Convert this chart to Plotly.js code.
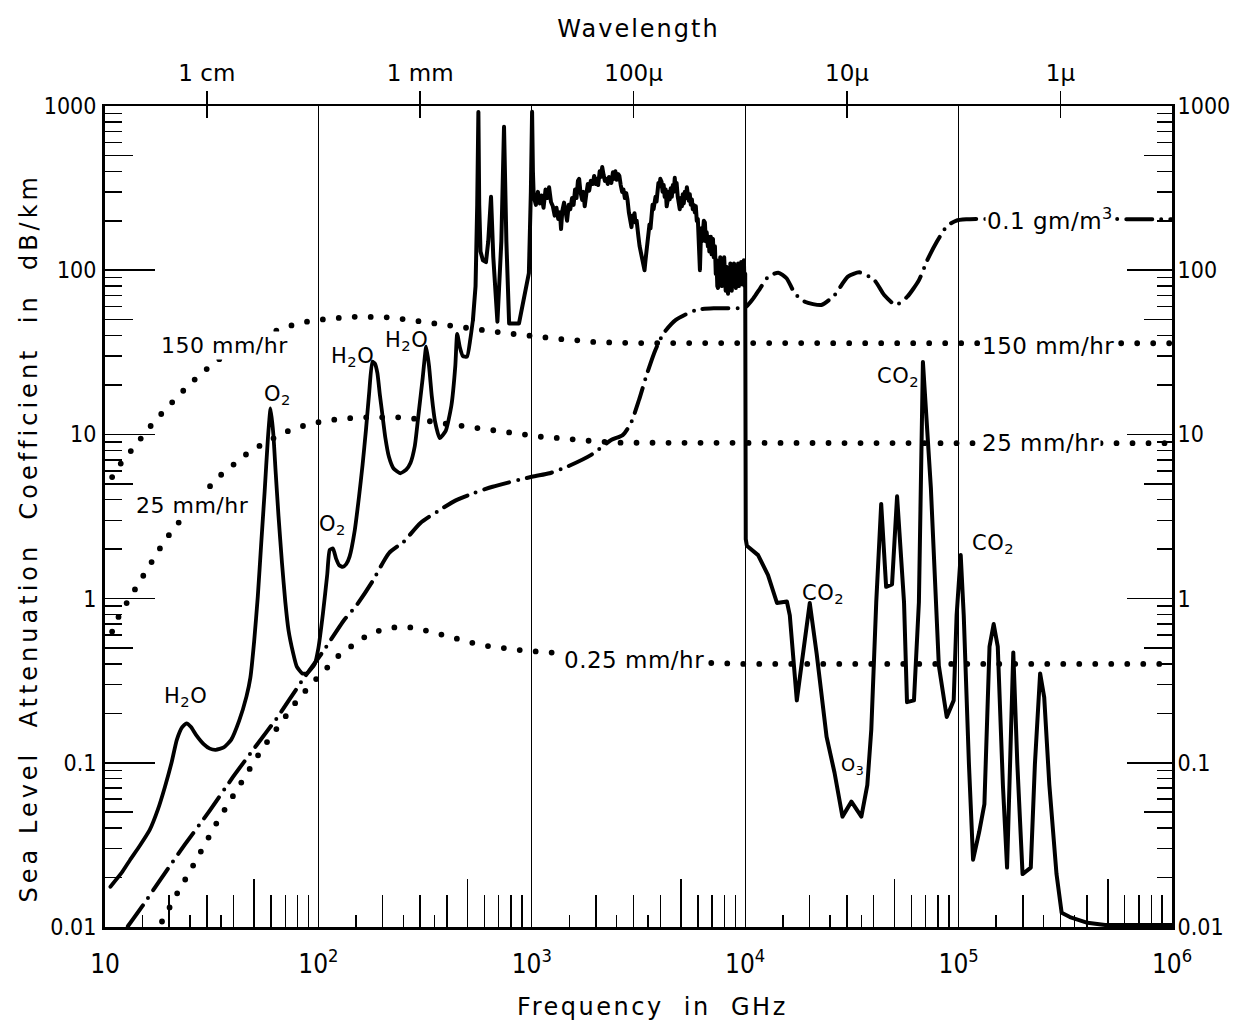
<!DOCTYPE html>
<html>
<head>
<meta charset="utf-8">
<script src="https://cdn.plot.ly/plotly-3.0.1.min.js"></script>
<style>
html,body{margin:0;padding:0;background:#fff;}
#chart{width:1234px;height:1030px;}
.scatterlayer .js-line{stroke-linecap:round;stroke-linejoin:round;}
.xtitle{letter-spacing:2.5px;}
.x2title{letter-spacing:2px;}
.ytitle{letter-spacing:4px;}
.annotation-text{letter-spacing:0.5px;}
</style>
</head>
<body>
<div id="chart"></div>
<script>
// ---------------- data ----------------
// Total sea-level attenuation (solid line)
const attenFreqGHz = [
  10.6, 12, 13.1, 14.5, 16.2, 17.7, 19.1, 20.5, 21.7, 23, 24.1, 25.3, 26.7, 29, 31, 33, 36, 39, 42.5, 46, 48, 50,
  52, 54, 56, 58, 59.7, 61.5, 63, 65, 67.5, 70, 72.4, 76, 79.2, 84, 88.2, 92, 96.2, 100, 105, 110, 113, 117, 121,
  125, 130, 135, 140, 148, 155, 161, 167, 173, 179, 184, 189, 194, 199, 206, 214, 225, 242, 258, 270, 283, 295,
  308, 320, 330, 340, 352, 370, 395, 420, 438, 447, 460, 475, 497, 515, 530,
  545, 555, 562, 567, 575, 590, 610, 625, 644, 660, 690, 720, 741, 760, 783, 871, 935, 969, 990, 1003, 1012,
  1021, 1045, 1068, 1090, 1110, 1135, 1160, 1185, 1205, 1230, 1255, 1280, 1305, 1330, 1355, 1371, 1390, 1416,
  1440, 1463, 1490, 1515, 1544, 1570, 1595, 1620, 1645, 1667, 1690, 1722, 1745, 1770, 1800, 1830, 1857, 1890,
  1930, 1960, 1990, 2020, 2047, 2080, 2110, 2138, 2170, 2200, 2233, 2270, 2300, 2330, 2359, 2400, 2430, 2464,
  2500, 2540, 2573, 2610, 2650, 2688, 2730, 2770, 2807, 2850, 2890, 2932, 2970, 3000, 3028, 3060, 3100, 3127,
  3160, 3200, 3240, 3267, 3300, 3340, 3374, 3410, 3450, 3490, 3524, 3560, 3600, 3640, 3680, 3720, 3760, 3800,
  3842, 3880, 3920, 3968, 4000, 4056, 4100, 4150, 4194, 4240, 4286, 4330, 4380, 4430, 4477, 4530, 4580, 4630,
  4677, 4720, 4770, 4830, 4880, 4935, 4990, 5050, 5100, 5156, 5210, 5270, 5330, 5385, 5440, 5500, 5560, 5625,
  5680, 5740, 5809, 5870, 5930, 5999, 6050, 6100, 6136, 6180, 6230, 6280, 6337, 6400, 6474, 6540, 6600, 6685,
  6740, 6790, 6837, 6900, 6960, 7010, 7061, 7120, 7170, 7214, 7280, 7340, 7400, 7456, 7520, 7580, 7640, 7700,
  7770, 7830, 7900, 7970, 8044, 8100, 8160, 8230, 8310, 8380, 8450, 8520, 8583, 8650, 8720, 8790, 8860, 8930,
  8966, 9040, 9110, 9180, 9264, 9340, 9420, 9500, 9573, 9650, 9720, 9788, 9860, 9930, 10000,
  10060, 10180, 11490, 12790, 14090, 15680, 16180, 17450, 20070, 21630, 24060, 26220, 28560, 31460, 35020,
  37340, 38990, 41120, 43380, 45750, 48760, 51490, 55500, 57310, 61780, 65160, 68040, 74150, 80800, 87990,
  94850, 97880, 102300, 105700, 111800, 116900, 124900, 132100, 139600, 146000, 152600, 161300, 168700,
  174500, 180400, 188500, 199400, 217900, 227800, 241000, 251900, 266300, 287600, 304000, 332300, 401800,
  485600, 1000000
];
const attenDbKm = [
  0.0176, 0.0215, 0.0256, 0.031, 0.039, 0.052, 0.0715, 0.1, 0.138, 0.165, 0.174, 0.165, 0.148, 0.13, 0.122, 0.12,
  0.124, 0.138, 0.18, 0.253, 0.33, 0.55, 1.03, 2.2, 4.5, 9.5, 14.4, 10, 6, 3.2, 1.65, 0.95, 0.644, 0.47, 0.385,
  0.35, 0.35, 0.37, 0.40, 0.5, 0.81, 1.4, 1.98, 2.02, 1.75, 1.6, 1.56, 1.62, 1.8, 2.6, 4.18, 6.5, 10.6, 18, 27.7,
  27, 23.6, 17.5, 13.5, 9.5, 7.3, 6.2, 5.8, 6.1, 6.7, 8.5, 13.5, 22, 34.2, 26, 17, 12, 9.5, 10.5, 15, 26, 41,
  34, 30, 29.7, 38, 50,
  80, 250, 919, 250, 130, 115, 112, 150, 280, 120, 48.6, 150, 748, 150, 47.4, 47.4, 79, 96, 300, 923, 400,
  280, 250, 300, 255, 285, 240, 310, 275, 320, 260, 245, 215, 240, 205, 225, 178, 230, 258,
  215, 200, 250, 235, 275, 250, 310, 275, 350, 360, 300, 268, 300, 245, 290, 335, 305, 350,
  335, 375, 335, 360, 330, 400, 370, 425, 380, 350, 360, 335, 370, 345, 340, 395, 360, 400,
  355, 385, 375, 330, 300, 310, 275, 295, 270, 225, 200, 183, 215, 205, 222, 195, 200, 170,
  160, 140, 130, 125, 112, 104, 100, 115, 130, 150, 165, 190, 180, 210, 250, 235, 260, 280,
  262, 300, 340, 325, 360, 345, 300, 330, 280, 310, 245, 265, 300, 270, 315, 280, 330, 300,
  365, 310, 340, 280, 260, 235, 275, 245, 290, 255, 300, 275, 320, 290, 265, 290, 250, 270,
  235, 250, 225, 245, 200, 205, 165, 120, 100, 140, 180, 150, 175, 200, 195, 150, 170, 140,
  160, 130, 140, 160, 125, 150, 155, 120, 135, 140, 95, 115, 80, 78, 110, 90, 120, 105,
  80, 110, 85, 120, 95, 75, 105, 80, 72, 100, 80, 110, 95, 75, 105, 80, 110, 85,
  100, 78, 105, 82, 110, 80, 108, 85, 112, 82, 105, 85, 115, 80, 95,
  2.3, 2.1, 1.84, 1.39, 0.94, 0.96, 0.79, 0.24, 0.94, 0.46, 0.144, 0.087, 0.047, 0.058, 0.047,
  0.073, 0.16, 0.95, 3.77, 1.18, 1.22, 4.2, 0.95, 0.234, 0.24, 0.95, 27.6, 4.7, 0.39, 0.19,
  0.24, 0.79, 1.84, 0.79, 0.098, 0.0257, 0.038, 0.056, 0.51, 0.70, 0.51, 0.073, 0.023,
  0.098, 0.47, 0.098, 0.021, 0.023, 0.098, 0.35, 0.25, 0.073, 0.021, 0.0122, 0.0115, 0.0106,
  0.0103, 0.0103
];
const smoothUntilGHz = 530;   // below this the printed line is a smooth curve

// Rain 150 mm/hr (dotted)
const rain150FreqGHz = [10.8, 11.9, 13.2, 14.7, 16.5, 18.9, 21.5, 24.6, 28.6, 33.7, 41.9, 52.9, 70, 83.8, 98, 117, 142, 171,
  208, 254, 300, 363, 430, 530, 628, 759, 918, 1110, 1345, 1632, 1981, 3000, 10000, 100000, 1000000];
const rain150DbKm = [5.5, 6.7, 7.9, 9.55, 11.4, 13.9, 16.7, 19.9, 23.8, 28.3, 33.6, 39.2, 45, 48, 49.7, 51, 52, 52,
  51.7, 50.2, 48.6, 47, 45.3, 43.6, 42.9, 41.3, 40.3, 39, 38.1, 37.4, 36.5, 36, 35.9, 35.9, 35.9];

// Rain 25 mm/hr (dotted)
const rain25FreqGHz = [10.8, 11.6, 12.7, 14.0, 15.4, 16.9, 18.7, 21.1, 25.4, 30.7, 34.9, 40, 46.1, 56, 72.3, 87.3, 107, 132,
  164, 237, 277, 380, 466, 556, 669, 807, 988, 1184, 1405, 1632, 2500, 10000, 100000, 1000000];
const rain25DbKm = [0.63, 0.78, 0.95, 1.18, 1.46, 1.78, 2.17, 2.7, 3.6, 4.76, 5.66, 6.58, 7.6, 8.9, 10.5, 11.4, 12.1, 12.5,
  12.7, 12.7, 12.5, 11.7, 11.3, 10.9, 10.5, 10.2, 9.8, 9.55, 9.5, 9.25, 8.9, 8.84, 8.84, 8.84];

// Rain 0.25 mm/hr (dotted)
const rain025FreqGHz = [18.5, 20.1, 22.1, 24.6, 27.1, 30.1, 33.4, 37.9, 42.4, 47.6, 54.1, 61.9, 70.3, 79.7, 92.3, 107, 124,
  145, 170, 200, 238, 282, 340, 413, 511, 621, 918, 1135, 2000, 3000, 5000, 10000, 1000000];
const rain025DbKm = [0.0108, 0.0133, 0.0166, 0.021, 0.0266, 0.0339, 0.0432, 0.0566, 0.0726, 0.0913, 0.120, 0.153, 0.191,
  0.241, 0.30, 0.371, 0.447, 0.521, 0.60, 0.65, 0.674, 0.665, 0.63, 0.586, 0.542, 0.514, 0.482, 0.475, 0.45, 0.43, 0.41, 0.40, 0.40];

// Fog 0.1 g/m^3 (dash-dot)
const fogFreqGHz = [12.8, 14.9, 18.7, 23.6, 30.3, 39.8, 51.3, 64.6, 83.8, 105, 132, 150, 179, 214, 251, 300, 371, 443, 530,
  655, 1000, 1211, 1468, 1898, 2353, 2666, 2912, 3179, 3473, 3795, 4145, 4731, 5893, 7346, 9980, 10930, 11750, 12830,
  14280, 15620, 17080, 19030, 22740, 26230, 30270, 34300, 40300, 44800, 50800, 57500, 65200, 71300, 79300, 88000,
  97100, 108600, 1000000];
const fogDbKm = [0.0101, 0.0133, 0.0205, 0.0316, 0.0492, 0.082, 0.128, 0.191, 0.316, 0.475, 0.741, 0.90, 1.27, 1.89, 2.22,
  2.88, 3.47, 3.98, 4.37, 4.80, 5.52, 5.8, 6.36, 7.5, 9.24, 9.9, 11.7, 16.2, 23.6, 32.7, 41.3, 49.8, 57.3, 58.7, 59.4,
  67.5, 77.6, 91.3, 96.6, 89.3, 72.3, 64.3, 61.4, 70.6, 91.3, 97, 87, 70.6, 61.4, 69, 87, 115, 150, 185, 200, 204, 204];

// Axis ticks
const freqTicks = [10, 100, 1000, 10000, 100000, 1000000];
const freqTickLabels = ['10', '10<sup>2</sup>', '10<sup>3</sup>', '10<sup>4</sup>', '10<sup>5</sup>', '10<sup>6</sup>'];
const waveTicksGHz = [30, 300, 3000, 30000, 300000];
const waveTickLabels = ['1 cm', '1 mm', '100\u03bc', '10\u03bc', '1\u03bc'];
const attTicks = [0.01, 0.1, 1, 10, 100, 1000];
const attTickLabels = ['0.01', '0.1', '1', '10', '100', '1000'];

// ---------------- styling ----------------
const FONT_NUM = "'Liberation Sans Narrow','DejaVu Sans Condensed','Liberation Sans',sans-serif";
const FONT_TXT = "'DejaVu Sans','Noto Sans',sans-serif";
const BLACK = '#000';

function scaled(decades, factors) {
  const out = [];
  decades.forEach(d => factors.forEach(f => out.push(d * f)));
  return out;
}
const xDec = [10, 100, 1000, 10000, 100000];
const yDec = [0.01, 0.1, 1, 10, 100];

const base = {type: 'log', showgrid: false, zeroline: false, showline: false, ticks: '',
  showticklabels: false, fixedrange: true};

const cut = attenFreqGHz.indexOf(smoothUntilGHz);
const dotted = {color: BLACK, width: 5.8, dash: '0px,16px'};
const traces = [
  {x: rain150FreqGHz, y: rain150DbKm, mode: 'lines', line: dotted},
  {x: rain25FreqGHz, y: rain25DbKm, mode: 'lines', line: dotted},
  {x: rain025FreqGHz, y: rain025DbKm, mode: 'lines', line: dotted},
  {x: fogFreqGHz, y: fogDbKm, mode: 'lines', line: {color: BLACK, width: 4, dash: '26px,9px,0px,9px', shape: 'spline', smoothing: 0.6}},
  {x: attenFreqGHz.slice(0, cut + 1), y: attenDbKm.slice(0, cut + 1), mode: 'lines',
    line: {color: BLACK, width: 3.8, shape: 'spline', smoothing: 0.5}},
  {x: attenFreqGHz.slice(cut), y: attenDbKm.slice(cut), mode: 'lines', line: {color: BLACK, width: 4}},
  // axis carriers (no marks)
  {x: [], y: [], xaxis: 'x2', yaxis: 'y'},
  {x: [], y: [], xaxis: 'x3', yaxis: 'y'},
  {x: [], y: [], xaxis: 'x4', yaxis: 'y'},
  {x: [], y: [], xaxis: 'x', yaxis: 'y2'},
  {x: [], y: [], xaxis: 'x', yaxis: 'y3'},
  {x: [], y: [], xaxis: 'x', yaxis: 'y4'}
].map(t => Object.assign({showlegend: false, hoverinfo: 'skip'}, t));

const leftLblFont = {family: FONT_TXT, size: 22, color: BLACK};
const rightLblFont = {family: FONT_TXT, size: 23, color: BLACK};
const molFont = {family: FONT_TXT, size: 21, color: BLACK};
const smallMolFont = {family: FONT_TXT, size: 18, color: BLACK};
function ann(text, x, y, font, bg) {
  const a = {text, x, y, xref: 'x', yref: 'y', showarrow: false, font, xanchor: 'center', yanchor: 'middle'};
  if (bg) { a.bgcolor = '#fff'; a.borderpad = 1; }
  return a;
}
const annotations = [
  ann('150 mm/hr', 1.562, 1.544, leftLblFont, true),
  ann('25 mm/hr', 1.412, 0.564, leftLblFont, true),
  ann('H<sub>2</sub>O', 1.375, -0.60, molFont),
  ann('O<sub>2</sub>', 1.806, 1.24, molFont),
  ann('O<sub>2</sub>', 2.064, 0.45, molFont),
  ann('H<sub>2</sub>O', 2.162, 1.47, molFont),
  ann('H<sub>2</sub>O', 2.415, 1.57, molFont),
  ann('0.25 mm/hr', 3.479, -0.374, rightLblFont, true),
  ann('150 mm/hr', 5.419, 1.54, rightLblFont, true),
  ann('25 mm/hr', 5.386, 0.948, rightLblFont, true),
  ann('0.1 gm/m<sup>3</sup>', 5.428, 2.31, rightLblFont, true),
  ann('CO<sub>2</sub>', 4.365, 0.03, molFont),
  ann('O<sub>3</sub>', 4.503, -1.02, smallMolFont),
  ann('CO<sub>2</sub>', 4.716, 1.35, molFont),
  ann('CO<sub>2</sub>', 5.161, 0.33, molFont)
];

const NB = '\u00a0';
const PAD = '<span style="color:#fff">n</span>';   // invisible spacer to offset titles like the original
const layout = {
  width: 1234, height: 1030,
  margin: {l: 105, r: 62, t: 106, b: 103},
  paper_bgcolor: '#fff', plot_bgcolor: '#fff',
  showlegend: false, hovermode: false,
  xaxis: Object.assign({}, base, {
    range: [1, 6], showline: true, linewidth: 3, linecolor: BLACK,
    showgrid: true, gridcolor: BLACK, gridwidth: 1.1,
    tickmode: 'array', tickvals: freqTicks, ticktext: freqTickLabels, showticklabels: true,
    tickfont: {family: FONT_NUM, size: 26, color: BLACK}, ticklabelstandoff: 12,
    minor: {tickmode: 'array', tickvals: scaled(xDec, [2, 3, 4, 6, 7, 8, 9]), ticks: 'inside',
      ticklen: 32, tickwidth: 1.5, tickcolor: BLACK, showgrid: false},
    title: {text: PAD + NB + 'Frequency' + NB + NB + 'in' + NB + NB + 'GHz', font: {family: FONT_TXT, size: 24, color: BLACK}, standoff: 20}
  }),
  xaxis2: Object.assign({}, base, {
    overlaying: 'x', side: 'top', anchor: 'y', range: [1, 6],
    showline: true, linewidth: 2.5, linecolor: BLACK,
    tickmode: 'array', tickvals: waveTicksGHz, ticktext: waveTickLabels, showticklabels: true,
    ticks: 'outside', ticklen: 13, tickwidth: 1.5, tickcolor: BLACK,
    tickfont: {family: FONT_TXT, size: 23, color: BLACK},
    title: {text: 'Wavelength', font: {family: FONT_TXT, size: 24, color: BLACK}, standoff: 16}
  }),
  xaxis3: Object.assign({}, base, {
    overlaying: 'x', side: 'bottom', anchor: 'y', range: [1, 6],
    tickmode: 'array', tickvals: scaled(xDec, [5]), ticks: 'inside', ticklen: 48, tickwidth: 1.5, tickcolor: BLACK,
    minor: {tickmode: 'array', tickvals: scaled(xDec, [1.5, 2.5, 3.5]), ticks: 'inside', ticklen: 12,
      tickwidth: 1.5, tickcolor: BLACK, showgrid: false}
  }),
  xaxis4: Object.assign({}, base, {
    overlaying: 'x', side: 'top', anchor: 'y', range: [1, 6],
    tickmode: 'array', tickvals: waveTicksGHz, ticks: 'inside', ticklen: 12, tickwidth: 1.5, tickcolor: BLACK
  }),
  yaxis: Object.assign({}, base, {
    range: [-2, 3], showline: true, linewidth: 3, linecolor: BLACK,
    tickmode: 'array', tickvals: attTicks, ticktext: attTickLabels, showticklabels: true,
    ticks: 'inside', ticklen: 50, tickwidth: 1.8, tickcolor: BLACK,
    tickfont: {family: FONT_NUM, size: 23, color: BLACK}, ticklabelstandoff: 1,
    minor: {tickmode: 'array', tickvals: scaled(yDec, [2, 3, 4, 6, 7, 8, 9]), ticks: 'inside', ticklen: 17,
      tickwidth: 1.5, tickcolor: BLACK, showgrid: false},
    title: {text: 'Sea' + NB + 'Level' + NB + NB + 'Attenuation' + NB + NB + 'Coefficient' + NB + NB + 'in' + NB + NB + 'dB/km' + NB + NB + PAD,
      font: {family: FONT_TXT, size: 24, color: BLACK}, standoff: 0}
  }),
  yaxis2: Object.assign({}, base, {
    overlaying: 'y', side: 'left', anchor: 'x', range: [-2, 3],
    tickmode: 'array', tickvals: scaled(yDec, [5]), ticks: 'inside', ticklen: 28, tickwidth: 1.5, tickcolor: BLACK
  }),
  yaxis3: Object.assign({}, base, {
    overlaying: 'y', side: 'right', anchor: 'x', range: [-2, 3],
    showline: true, linewidth: 3, linecolor: BLACK,
    tickmode: 'array', tickvals: attTicks, ticktext: attTickLabels, showticklabels: true,
    ticks: 'inside', ticklen: 45, tickwidth: 1.8, tickcolor: BLACK,
    tickfont: {family: FONT_NUM, size: 23, color: BLACK}, ticklabelstandoff: -2,
    minor: {tickmode: 'array', tickvals: scaled(yDec, [2, 3, 4, 6, 7, 8, 9]), ticks: 'inside', ticklen: 15,
      tickwidth: 1.5, tickcolor: BLACK, showgrid: false}
  }),
  yaxis4: Object.assign({}, base, {
    overlaying: 'y', side: 'right', anchor: 'x', range: [-2, 3],
    tickmode: 'array', tickvals: scaled(yDec, [5]), ticks: 'inside', ticklen: 28, tickwidth: 1.5, tickcolor: BLACK
  }),
  annotations: annotations
};

Plotly.newPlot('chart', traces, layout, {displayModeBar: false, staticPlot: true});
</script>
</body>
</html>
